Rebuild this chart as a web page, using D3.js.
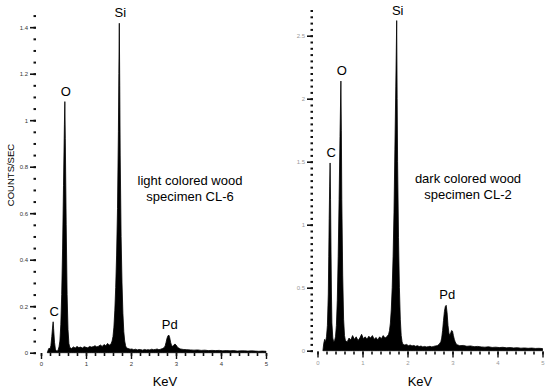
<!DOCTYPE html>
<html>
<head>
<meta charset="utf-8">
<script src="https://cdn.jsdelivr.net/npm/d3@7/dist/d3.min.js"></script>
<style>
  body { margin: 0; background: #fff; }
  svg { display: block; font-family: "Liberation Sans", Arial, sans-serif; }
</style>
</head>
<body>
<svg id="chart" width="550" height="392"></svg>
<script>
// ---- data ----
const lightKeV = [0.14,0.16,0.18,0.20,0.22,0.24,0.26,0.27,0.28,0.30,0.32,0.34,0.36,0.38,0.40,0.42,0.44,0.46,0.48,0.50,0.52,0.53,0.54,0.56,0.58,0.60,0.62,0.64,
  0.68,0.72,0.76,0.80,0.84,0.88,0.92,0.96,1.00,1.04,1.08,1.12,1.16,1.20,1.24,1.28,1.32,1.36,1.40,1.44,1.48,1.52,
  1.56,1.58,1.60,1.62,1.64,1.66,1.68,1.70,1.72,1.73,1.74,1.75,1.76,1.78,1.80,1.82,1.84,1.86,1.88,1.90,
  1.94,1.98,2.02,2.06,2.10,2.14,2.18,2.22,2.26,2.30,2.34,2.38,2.42,2.46,2.50,2.54,2.58,2.62,2.66,2.70,
  2.74,2.76,2.78,2.80,2.82,2.84,2.86,2.88,2.90,2.92,2.94,2.96,2.98,3.00,3.02,3.04,3.06,3.08,3.10,
  3.16,3.24,3.32,3.40,3.48,3.56,3.64,3.72,3.80,3.88,3.96,4.04,4.12,4.20,4.28,4.36,4.44,4.52,4.60,4.68,4.76,4.84,4.92,5.00];
const lightCounts = [0,0.012,0.02,0.016,0.03,0.07,0.115,0.133,0.105,0.045,0.015,0.008,0.006,0.012,0.025,0.05,0.12,0.25,0.45,0.72,0.98,1.08,0.92,0.55,0.25,0.1,0.04,0.022,
  0.018,0.025,0.02,0.027,0.022,0.024,0.02,0.026,0.023,0.021,0.027,0.024,0.026,0.03,0.025,0.028,0.033,0.027,0.035,0.03,0.04,0.032,
  0.04,0.05,0.07,0.11,0.18,0.28,0.42,0.62,0.95,1.2,1.417,1.15,0.85,0.5,0.3,0.17,0.09,0.05,0.03,0.02,
  0.018,0.015,0.016,0.013,0.015,0.012,0.014,0.013,0.011,0.014,0.012,0.013,0.012,0.015,0.013,0.014,0.016,0.013,0.015,0.018,
  0.022,0.03,0.045,0.062,0.072,0.076,0.065,0.045,0.032,0.028,0.03,0.035,0.037,0.033,0.028,0.022,0.02,0.018,0.016,
  0.014,0.013,0.012,0.011,0.012,0.01,0.011,0.009,0.01,0.009,0.01,0.008,0.009,0.008,0.009,0.007,0.008,0.008,0.007,0.008,0.007,0.006,0.007,0.006];

const darkKeV = [0.12,0.14,0.16,0.18,0.20,0.22,0.24,0.25,0.26,0.27,0.28,0.29,0.30,0.31,0.32,0.34,0.36,0.38,0.40,0.42,0.44,0.46,0.48,0.50,0.52,0.53,0.54,0.56,0.58,0.60,0.62,
  0.66,0.70,0.74,0.78,0.82,0.86,0.90,0.94,0.98,1.02,1.06,1.10,1.14,1.18,1.22,1.26,1.30,1.34,1.38,1.42,1.46,1.50,1.54,1.58,
  1.60,1.62,1.64,1.66,1.68,1.70,1.72,1.74,1.76,1.77,1.78,1.80,1.82,1.84,1.86,1.88,1.90,
  1.94,1.98,2.02,2.06,2.10,2.14,2.18,2.22,2.26,2.30,2.34,2.38,2.42,2.46,2.50,2.54,2.58,2.62,2.66,2.70,
  2.74,2.76,2.78,2.80,2.82,2.84,2.86,2.88,2.90,2.92,2.94,2.96,2.98,3.00,3.02,3.04,3.06,3.08,3.10,3.12,
  3.16,3.24,3.32,3.40,3.48,3.56,3.64,3.72,3.80,3.88,3.96,4.04,4.12,4.20,4.28,4.36,4.44,4.52,4.60,4.68,4.76,4.84,4.92,5.00];
const darkCounts = [0,0.06,0.09,0.07,0.11,0.2,0.45,0.75,1.05,1.3,1.49,1.2,0.8,0.45,0.22,0.1,0.07,0.08,0.11,0.2,0.4,0.75,1.2,1.7,2.14,1.75,1.2,0.6,0.25,0.12,0.08,
  0.07,0.1,0.085,0.12,0.09,0.11,0.08,0.1,0.13,0.095,0.11,0.09,0.115,0.1,0.12,0.09,0.105,0.085,0.11,0.095,0.12,0.1,0.11,0.13,
  0.16,0.22,0.33,0.5,0.75,1.1,1.6,2.1,2.62,2.0,1.5,0.9,0.5,0.25,0.12,0.07,0.05,
  0.045,0.05,0.04,0.045,0.038,0.042,0.035,0.04,0.033,0.037,0.03,0.034,0.03,0.032,0.035,0.03,0.034,0.038,0.04,0.05,
  0.07,0.1,0.16,0.24,0.31,0.35,0.36,0.3,0.2,0.14,0.12,0.14,0.16,0.155,0.12,0.09,0.07,0.055,0.048,0.045,
  0.04,0.042,0.035,0.038,0.032,0.034,0.03,0.028,0.031,0.026,0.028,0.025,0.027,0.023,0.025,0.022,0.024,0.02,0.022,0.019,0.021,0.018,0.019,0.017];

const peakNames = ['C', 'O', 'Si', 'Pd'];
const lightPeakKeV = [0.27, 0.53, 1.74, 2.84];
const lightPeakCounts = [0.133, 1.08, 1.417, 0.076];
const darkPeakKeV = [0.28, 0.52, 1.76, 2.86];
const darkPeakCounts = [1.49, 2.14, 2.62, 0.36];

const xTicks = [0, 1, 2, 3, 4, 5];
const xTickLabels = ['0', '1', '2', '3', '4', '5'];
const lightYTicks = [0, 0.2, 0.4, 0.6, 0.8, 1, 1.2, 1.4];
const lightYTickLabels = ['0', '0.2', '0.4', '0.6', '0.8', '1', '1.2', '1.4'];
const darkYTicks = [0, 0.5, 1, 1.5, 2, 2.5];
const darkYTickLabels = ['0', '0.5', '1', '1.5', '2', '2.5'];

class Spectrum {
  constructor(_config, _data) {
    this.config = {
      parent: _config.parent,
      xRange: _config.xRange,
      yBase: _config.yBase,
      yMax: _config.yMax,
      pxPerUnit: _config.pxPerUnit,
      yTicks: _config.yTicks,
      yTickLabels: _config.yTickLabels,
      yMinorStep: _config.yMinorStep,
      yAxisX: _config.yAxisX,
      xAxisY: _config.xAxisY,
      tickColor: _config.tickColor || '#222',
      labelColor: _config.labelColor || '#333',
      keVLabel: _config.keVLabel,
      note: _config.note
    };
    this.data = _data;
    this.initVis();
  }

  initVis() {
    let vis = this;
    let c = vis.config;

    vis.xScale = d3.scaleLinear().domain([0, 5]).range(c.xRange);
    vis.yScale = d3.scaleLinear()
      .domain([0, c.yMax])
      .range([c.yBase, c.yBase - c.yMax * c.pxPerUnit]);

    vis.g = d3.select(c.parent).append('g');

    // y axis: major + minor ticks, no domain line
    let yMinor = d3.range(0, c.yMax + 1e-6, c.yMinorStep);
    vis.g.append('g')
      .attr('transform', `translate(${c.yAxisX},0)`)
      .call(d3.axisLeft(vis.yScale).tickValues(yMinor).tickSize(c.minorLen || 2.5).tickFormat(''))
      .call(g => g.select('.domain').remove())
      .call(g => g.selectAll('line').attr('stroke', c.tickColor).attr('stroke-width', 2));

    vis.g.append('g')
      .attr('transform', `translate(${c.yAxisX},0)`)
      .call(d3.axisLeft(vis.yScale).tickValues(c.yTicks).tickSize(6).tickPadding(2)
        .tickFormat((d, i) => c.yTickLabels[i]))
      .call(g => g.select('.domain').remove())
      .call(g => g.selectAll('line').attr('stroke', c.tickColor).attr('stroke-width', 1.6))
      .call(g => g.selectAll('text').attr('font-size', 6).attr('fill', c.labelColor)
        .attr('font-family', '"Liberation Sans", Arial, sans-serif'));

    // x axis
    let xMinor = d3.range(0, 5.001, 0.2);
    vis.g.append('g')
      .attr('transform', `translate(0,${c.xAxisY})`)
      .call(d3.axisBottom(vis.xScale).tickValues(xMinor).tickSize(3).tickFormat(''))
      .call(g => g.select('.domain').remove())
      .call(g => g.selectAll('line').attr('stroke', c.tickColor).attr('stroke-width', 1.6));

    vis.g.append('g')
      .attr('transform', `translate(0,${c.xAxisY})`)
      .call(d3.axisBottom(vis.xScale).tickValues(xTicks).tickSize(6).tickPadding(3)
        .tickFormat((d, i) => xTickLabels[i]))
      .call(g => g.select('.domain').remove())
      .call(g => g.selectAll('line').attr('stroke', c.tickColor).attr('stroke-width', 1.4))
      .call(g => g.selectAll('text').attr('font-size', 6).attr('fill', c.labelColor)
        .attr('font-family', '"Liberation Sans", Arial, sans-serif'));

    vis.updateVis();
  }

  updateVis() {
    let vis = this;
    let c = vis.config;
    let d = vis.data;
    let pts = d.keV.map((k, i) => ({ k: k, v: d.counts[i] }));

    let area = d3.area()
      .x(p => vis.xScale(p.k))
      .y0(vis.yScale(0))
      .y1(p => vis.yScale(p.v));

    vis.g.append('path')
      .datum(pts)
      .attr('d', area)
      .attr('fill', '#000')
      .attr('stroke', '#000')
      .attr('stroke-width', 0.8)
      .attr('stroke-linejoin', 'round');

    // element labels over the peaks
    vis.g.selectAll('.peak-label')
      .data(d.peakNames)
      .join('text')
      .attr('class', 'peak-label')
      .attr('x', (n, i) => vis.xScale(d.peakKeV[i]) + 1)
      .attr('y', (n, i) => vis.yScale(d.peakCounts[i]) - 6)
      .attr('text-anchor', 'middle')
      .attr('font-size', 13)
      .attr('fill', '#000')
      .text(n => n);

    vis.g.append('text')
      .attr('x', c.keVLabel[0])
      .attr('y', c.keVLabel[1])
      .attr('text-anchor', 'middle')
      .attr('font-size', 13)
      .text('KeV');

    vis.g.selectAll('.note')
      .data(c.note.lines)
      .join('text')
      .attr('class', 'note')
      .attr('x', c.note.x)
      .attr('y', (t, i) => c.note.y + i * 16)
      .attr('text-anchor', 'middle')
      .attr('font-size', 13)
      .text(t => t);
  }
}

const svg = d3.select('#chart');

svg.append('text')
  .attr('transform', 'translate(14,175) rotate(-90)')
  .attr('text-anchor', 'middle')
  .attr('font-size', 9.5)
  .text('COUNTS/SEC');

new Spectrum({
  parent: '#chart',
  xRange: [41, 266],
  yBase: 352.7,
  yMax: 1.45,
  pxPerUnit: 232.5,
  yTicks: lightYTicks,
  yTickLabels: lightYTickLabels,
  yMinorStep: 0.05,
  yAxisX: 36,
  xAxisY: 353,
  tickColor: '#111',
  labelColor: '#333',
  keVLabel: [165, 386],
  note: { x: 190, y: 185, lines: ['light colored wood', 'specimen CL-6'] }
}, { keV: lightKeV, counts: lightCounts, peakNames: peakNames, peakKeV: lightPeakKeV, peakCounts: lightPeakCounts });

new Spectrum({
  parent: '#chart',
  xRange: [317.5, 542.5],
  yBase: 350.7,
  yMax: 2.7,
  pxPerUnit: 126,
  yTicks: darkYTicks,
  yTickLabels: darkYTickLabels,
  yMinorStep: 0.05,
  yAxisX: 313,
  xAxisY: 351.5,
  tickColor: '#111',
  labelColor: '#999',
  keVLabel: [420, 386],
  note: { x: 468, y: 183, lines: ['dark colored wood', 'specimen CL-2'] }
}, { keV: darkKeV, counts: darkCounts, peakNames: peakNames, peakKeV: darkPeakKeV, peakCounts: darkPeakCounts });
</script>
</body>
</html>
